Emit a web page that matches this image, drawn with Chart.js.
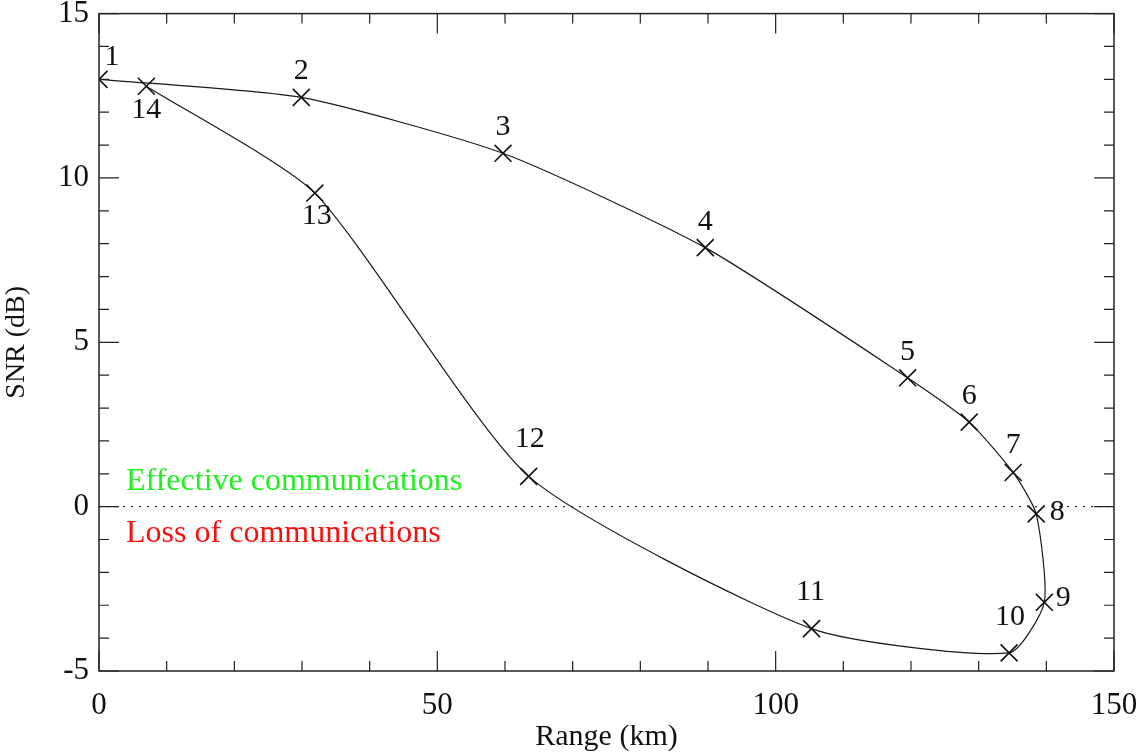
<!DOCTYPE html>
<html>
<head>
<meta charset="utf-8">
<script src="https://cdn.jsdelivr.net/npm/chart.js@4.4.1/dist/chart.umd.min.js"></script>
<style>
  html, body { margin: 0; padding: 0; background: #fff; }
  #wrap { width: 1146px; height: 755px; }
</style>
</head>
<body>
<div id="wrap"><canvas id="snrChart"></canvas></div>
<script>
// values, in path order
const pointNames = ['1', '2', '3', '4', '5', '6', '7', '8', '9', '10', '11', '12', '13', '14'];
const rangeKm = [0, 29.9, 59.7, 89.6, 119.5, 128.6, 135.1, 138.5, 139.7, 134.5, 105.3, 63.5, 31.9, 7.0];
const snrDb = [13.0, 12.45, 10.75, 7.88, 3.92, 2.57, 1.04, -0.22, -2.91, -4.45, -3.71, 0.92, 9.54, 12.79];

const xTicks = [0, 50, 100, 150];
const yTicks = [-5, 0, 5, 10, 15];
const threshold = 0;
const zoneText = ['Effective communications', 'Loss of communications'];

const FONT = '"Liberation Serif", "Times New Roman", serif';

// where each point number sits relative to its marker (px)
const labelOffset = [
    [13, -22], [0, -26], [0, -26], [0, -26], [0, -26], [0, -26], [0, -27],
    [21, -2], [19, -4], [1, -36], [-1, -36], [1, -37], [2, 23], [0, 24]
];

// frame, inward ticks on all four sides, threshold line and text
const decorations = {
    id: 'decorations',
    afterDatasetsDraw(chart) {
        const { ctx, chartArea: a, scales: { x, y } } = chart;
        ctx.save();

        // dotted zero line
        const y0 = y.getPixelForValue(threshold);
        ctx.strokeStyle = '#333';
        ctx.lineWidth = 1.3;
        ctx.setLineDash([2, 6]);
        ctx.beginPath();
        ctx.moveTo(a.left, y0);
        ctx.lineTo(a.right, y0);
        ctx.stroke();
        ctx.setLineDash([]);

        // frame
        ctx.strokeStyle = '#222';
        ctx.lineWidth = 1.5;
        ctx.strokeRect(a.left, a.top, a.right - a.left, a.bottom - a.top);

        ctx.lineWidth = 1.2;
        ctx.beginPath();
        // x ticks: major 50, minor 10
        for (let v = xTicks[0]; v <= xTicks[xTicks.length - 1]; v += 10) {
            const px = x.getPixelForValue(v);
            const len = xTicks.includes(v) ? 20 : 10;
            ctx.moveTo(px, a.bottom); ctx.lineTo(px, a.bottom - len);
            ctx.moveTo(px, a.top); ctx.lineTo(px, a.top + len);
        }
        // y ticks: major 5, minor 1
        for (let v = yTicks[0]; v <= yTicks[yTicks.length - 1]; v += 1) {
            const py = y.getPixelForValue(v);
            const len = yTicks.includes(v) ? 20 : 10;
            ctx.moveTo(a.left, py); ctx.lineTo(a.left + len, py);
            ctx.moveTo(a.right, py); ctx.lineTo(a.right - len, py);
        }
        ctx.stroke();

        // point numbers
        ctx.fillStyle = '#111';
        ctx.font = '30px ' + FONT;
        ctx.textAlign = 'center';
        ctx.textBaseline = 'middle';
        chart.getDatasetMeta(0).data.forEach((pt, i) => {
            ctx.fillText(pointNames[i], pt.x + labelOffset[i][0], pt.y + labelOffset[i][1]);
        });

        // zone text
        const tx = x.getPixelForValue(4);
        ctx.font = '32px ' + FONT;
        ctx.textAlign = 'left';
        ctx.textBaseline = 'alphabetic';
        ctx.fillStyle = '#1ff01f';
        ctx.fillText(zoneText[0], tx, y0 - 17);
        ctx.fillStyle = '#ff0d0d';
        ctx.textBaseline = 'top';
        ctx.fillText(zoneText[1], tx, y0 + 11);

        ctx.restore();
    }
};

new Chart(document.getElementById('snrChart').getContext('2d'), {
    type: 'line',
    data: {
        datasets: [{
            data: rangeKm.map((r, i) => ({ x: r, y: snrDb[i] })),
            borderColor: '#1a1a1a',
            borderWidth: 1.2,
            tension: 0.2,
            pointStyle: 'crossRot',
            pointRadius: 12,
            pointBorderWidth: 1.6,
            pointBorderColor: '#111',
            fill: false
        }]
    },
    options: {
        responsive: true,
        maintainAspectRatio: false,
        animation: false,
        layout: { padding: { top: 10, right: 32, left: 0, bottom: 0 } },
        plugins: { legend: { display: false }, tooltip: { enabled: false } },
        scales: {
            x: {
                type: 'linear',
                min: 0, max: 150,
                afterBuildTicks: s => { s.ticks = xTicks.map(v => ({ value: v })); },
                afterFit: s => { s.height = 84; s.paddingLeft = 0; s.paddingRight = 0; },
                grid: { display: false, drawTicks: false },
                border: { display: false },
                ticks: { color: '#111', padding: 16, maxRotation: 0, font: { family: FONT, size: 31 } },
                title: { display: true, text: 'Range (km)', color: '#111', padding: { top: 4, bottom: 0 }, font: { family: FONT, size: 30 } }
            },
            y: {
                min: -5, max: 15,
                afterBuildTicks: s => { s.ticks = yTicks.map(v => ({ value: v })); },
                afterFit: s => { s.width = 99; s.paddingTop = 0; s.paddingBottom = 0; },
                grid: { display: false, drawTicks: false },
                border: { display: false },
                ticks: { color: '#111', padding: 10, font: { family: FONT, size: 31 } },
                title: { display: true, text: 'SNR (dB)', color: '#111', padding: { top: 0, bottom: 4 }, font: { family: FONT, size: 28 } }
            }
        }
    },
    plugins: [decorations]
});
</script>
</body>
</html>
